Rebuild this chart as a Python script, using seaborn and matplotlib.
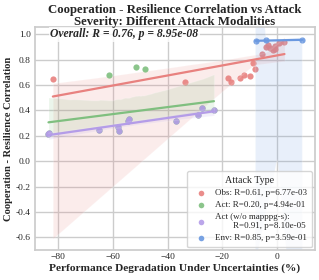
import numpy as np
import seaborn as sns
import matplotlib.pyplot as plt

# values
obs_x = [-82.0, -33.8, -18.0, -16.7, -13.4, -12.2, -10.0, -9.0, -8.1,
         -5.7, -3.9, -2.7, -1.5, -0.6, -0.9, 0.6, 2.7, -3.3]
obs_y = [0.646, 0.62, 0.654, 0.62, 0.654, 0.68, 0.667, 0.772, 0.727,
         0.842, 0.90, 0.894, 0.876, 0.884, 0.91, 0.929, 0.936, 0.915]

act_wo_x = [-83.6, -83.3, -65.1, -58.1, -57.7, -54.7, -54.3, -37.0, -28.9, -27.4, -23.1]
act_wo_y = [0.215, 0.22, 0.249, 0.267, 0.235, 0.32, 0.33, 0.314, 0.36, 0.42, 0.40]

mappg_x = [-61.5, -51.6, -48.4]
mappg_y = [0.678, 0.745, 0.727]
act_x = act_wo_x + mappg_x
act_y = act_wo_y + mappg_y

env_x = [-7.9, -4.0, 9.2]
env_y = [0.946, 0.952, 0.955]

labels = ['Obs: R=0.61, p=6.77e-03',
          'Act: R=0.20, p=4.94e-01',
          'Act (w/o mapppg-s):\n        R=0.91, p=8.10e-05',
          'Env: R=0.85, p=3.59e-01']
colors = ['#e8817f', '#7fbf7f', '#b49ce8', '#6a98e0']

sns.set_theme(style='whitegrid')
plt.rcParams['font.family'] = ['Liberation Serif', 'DejaVu Serif']

fig, ax = plt.subplots(figsize=(3.19, 2.80), dpi=100)

groups = [(obs_x, obs_y), (act_x, act_y), (act_wo_x, act_wo_y), (env_x, env_y)]
for (gx, gy), lab, c in zip(groups, labels, colors):
    sns.regplot(x=np.array(gx), y=np.array(gy), ax=ax, color=c, label=lab,
                seed=0, scatter_kws={'s': 20, 'alpha': 0.9, 'linewidths': 0},
                line_kws={'lw': 1.6})

ax.set_xlim(-88.5, 13.8)
ax.set_ylim(-0.7, 1.053)
ax.set_xticks([-80, -60, -40, -20, 0])
ax.set_yticks(np.arange(-0.6, 1.01, 0.2))
ax.set_yticklabels([f'{v:.1f}' for v in np.arange(-0.6, 1.01, 0.2)])
ax.tick_params(axis='y', labelsize=6.8, length=0, pad=3)
ax.tick_params(axis='x', labelsize=6.8, length=0, pad=2)

ax.set_title('Cooperation - Resilience Correlation vs Attack\nSeverity: Different Attack Modalities',
             fontsize=9.2, fontweight='bold', pad=2, linespacing=0.95)
ax.set_xlabel('Performance Degradation Under Uncertainties (%)', fontsize=8.2,
              fontweight='bold')
ax.set_ylabel('Cooperation - Resilience Correlation', fontsize=7.6,
              fontweight='bold')
ax.xaxis.set_label_coords(0.5, -0.058)
ax.yaxis.set_label_coords(-0.08, 0.5)

ax.text(0.054, 0.97, 'Overall: R = 0.76, p = 8.95e-08', transform=ax.transAxes,
        fontsize=8.4, fontweight='bold', fontstyle='italic', va='center', ha='left',
        bbox=dict(facecolor='white', edgecolor='none', alpha=0.8, pad=1))

leg = ax.legend(title='Attack Type', loc='lower right', fontsize=6.5,
                title_fontsize=7.2, frameon=True, borderpad=0.6, labelspacing=0.4,
                handletextpad=0.5, borderaxespad=0.3, markerscale=0.9)
leg.get_frame().set_edgecolor('#cccccc')

fig.subplots_adjust(left=0.11, right=0.987, top=0.902, bottom=0.107)
fig.savefig('out.png', dpi=100)
